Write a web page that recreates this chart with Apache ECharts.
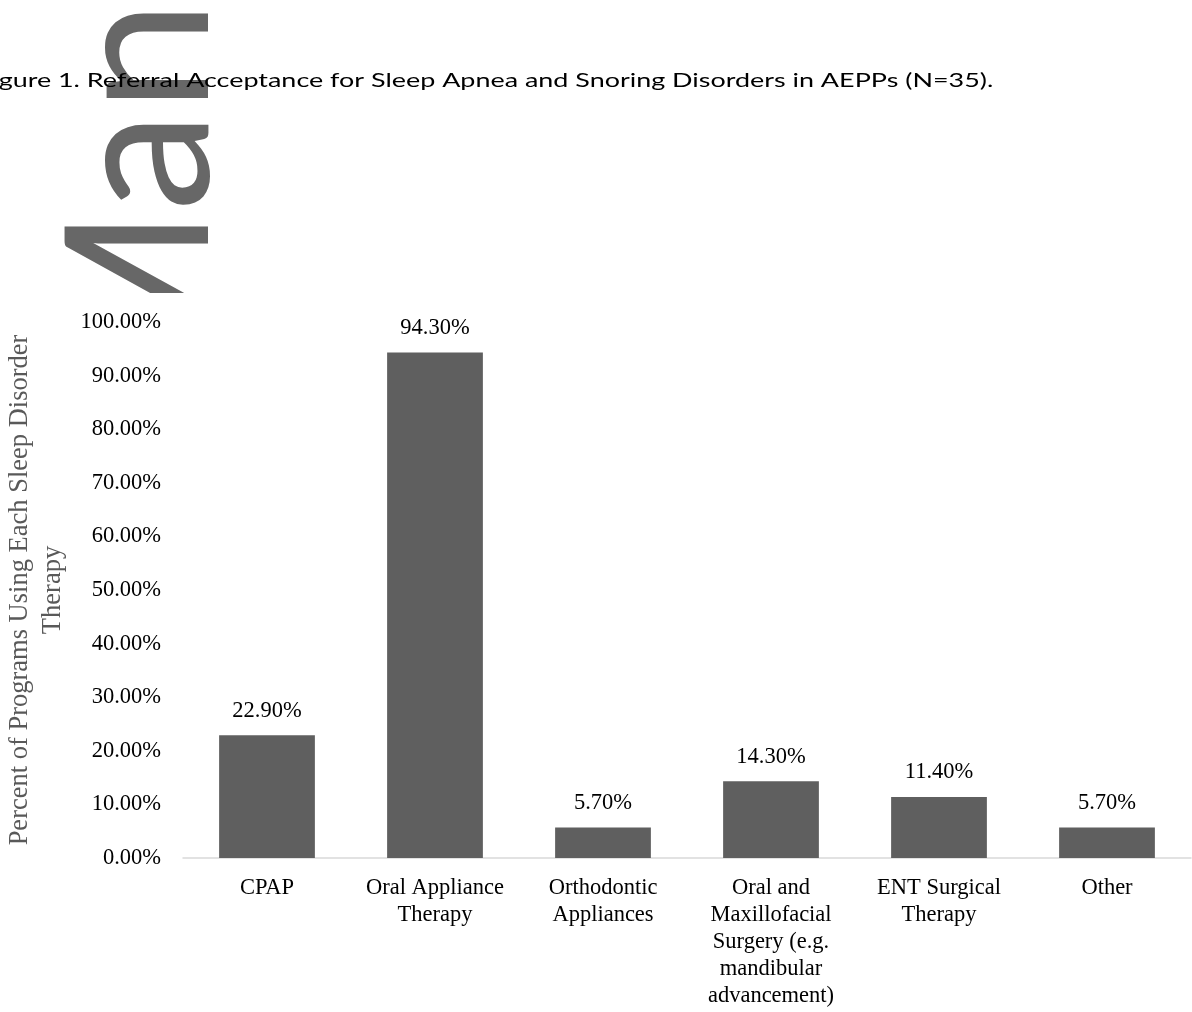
<!DOCTYPE html>
<html><head><meta charset="utf-8">
<script src="https://cdn.jsdelivr.net/npm/echarts@6/dist/echarts.min.js"></script>
<style>html,body{margin:0;padding:0;background:#fff}#c{width:1192px;height:1012px}</style>
</head><body><div id="c"></div>
<script>
const titleText = "Figure 1. Referral Acceptance for Sleep Apnea and Snoring Disorders in AEPPs (N=35).";
const watermarkText = "Man";
const categories = ["CPAP", "Oral Appliance\nTherapy", "Orthodontic\nAppliances", "Oral and\nMaxillofacial\nSurgery (e.g.\nmandibular\nadvancement)", "ENT Surgical\nTherapy", "Other"];
const values = [0.229, 0.943, 0.057, 0.143, 0.114, 0.057];
const yAxisName = "Percent of Programs Using Each Sleep Disorder\nTherapy";

const serif = "'Liberation Serif','Times New Roman',serif";
const chart = echarts.init(document.getElementById('c'));
chart.setOption({
  animation: false,
  backgroundColor: '#fff',
  graphic: [
    {type: 'text', z: -20, x: 243, y: 394, rotation: Math.PI / 2,
     style: {text: watermarkText, font: "200px Lato, 'Open Sans', sans-serif", fill: '#676767', textAlign: 'left', textVerticalAlign: 'bottom'}},
    {type: 'rect', z: -19, shape: {x: 30, y: 293, width: 230, height: 130}, style: {fill: '#ffffff'}},
    {type: 'text', z: 10, x: -23, y: 81, scaleX: 1.346, scaleY: 1,
     style: {text: titleText, font: "20px Lato, 'Open Sans', sans-serif", fill: '#000', textAlign: 'left', textVerticalAlign: 'middle'}}
  ],
  grid: {left: 183, right: 1, top: 322, bottom: 154, containLabel: false, outerBoundsMode: 'none'},
  xAxis: {
    type: 'category', data: categories,
    axisLine: {lineStyle: {color: '#d9d9d9', width: 1.5}},
    axisTick: {show: false},
    axisLabel: {interval: 0, color: '#000', fontFamily: serif, fontSize: 22.5, lineHeight: 27, margin: 17}
  },
  yAxis: {
    type: 'value', min: 0, max: 1, interval: 0.1,
    name: yAxisName, nameLocation: 'middle', nameGap: 102, nameRotate: 90,
    nameTextStyle: {color: '#595959', fontFamily: serif, fontSize: 26.5, lineHeight: 33},
    axisLine: {show: false}, axisTick: {show: false}, splitLine: {show: false},
    axisLabel: {color: '#000', fontFamily: serif, fontSize: 22.5, margin: 22,
      formatter: v => (v * 100).toFixed(2) + '%'}
  },
  series: [{
    type: 'bar', data: values, barWidth: '57%',
    itemStyle: {color: '#5f5f5f'},
    label: {show: true, position: 'top', distance: 13, color: '#000', fontFamily: serif, fontSize: 22.5,
      formatter: p => (p.value * 100).toFixed(2) + '%'}
  }]
});
</script></body></html>
